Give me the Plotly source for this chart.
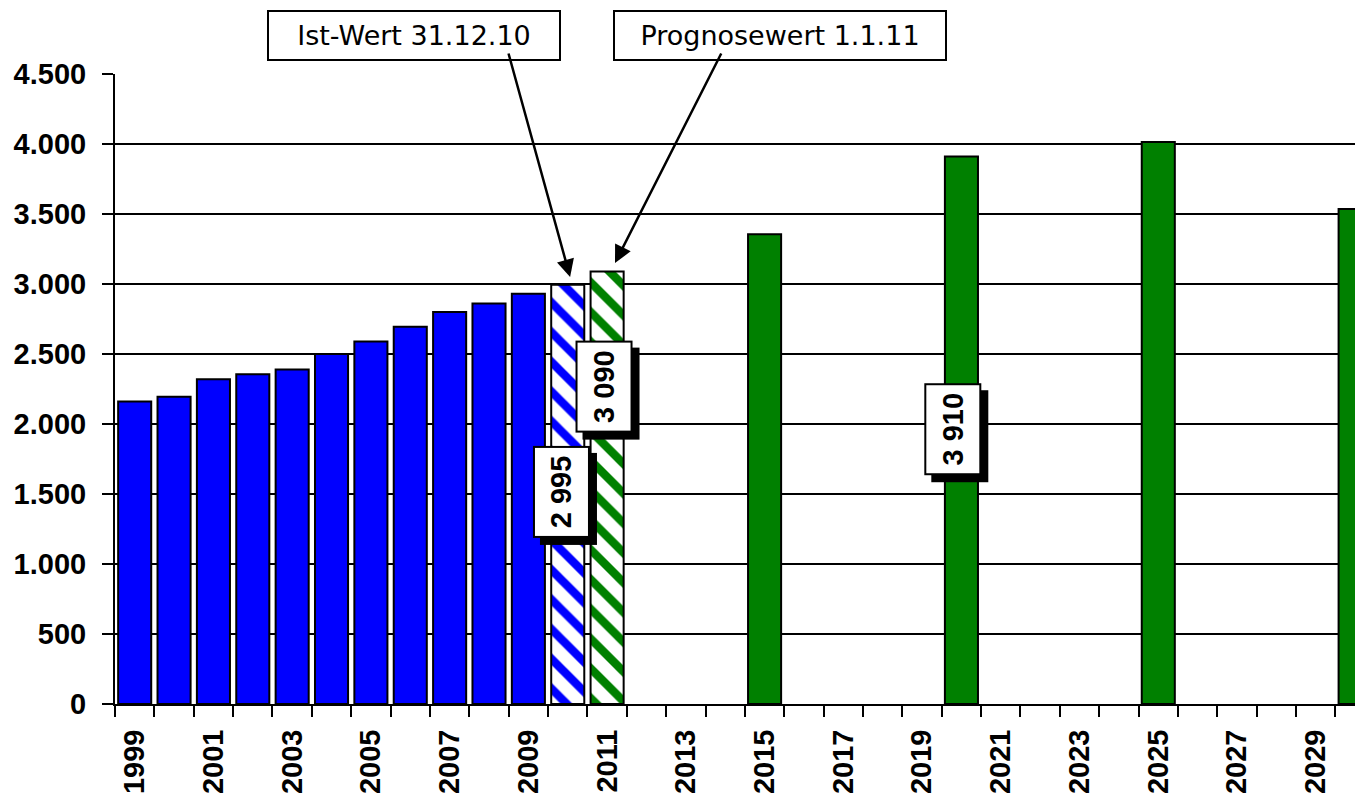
import plotly.graph_objects as go

# Werte
years_actual = [1999, 2000, 2001, 2002, 2003, 2004, 2005, 2006, 2007, 2008, 2009]
values_actual = [2160, 2195, 2320, 2355, 2390, 2500, 2590, 2695, 2800, 2860, 2930]
year_ist = [2010]
value_ist = [2995]
year_prog = [2011]
value_prog = [3090]
years_forecast = [2015, 2020, 2025, 2030]
values_forecast = [3355, 3910, 4015, 3535]
tick_years = [1999, 2001, 2003, 2005, 2007, 2009, 2011, 2013, 2015,
              2017, 2019, 2021, 2023, 2025, 2027, 2029]
y_ticks = [0, 500, 1000, 1500, 2000, 2500, 3000, 3500, 4000, 4500]

BLUE = "#0000FF"
GREEN = "#008000"
BOLD = dict(family="Arial, Liberation Sans", size=29, color="black", weight="bold")
BOX = dict(family="Verdana, DejaVu Sans", size=27, color="black")
BAR_W = 0.84
OUTLINE = dict(color="black", width=2)


def hatch(col):
    return dict(shape="\\", fgcolor=col, bgcolor="white", fgopacity=1,
                size=21, solidity=0.4)


fig = go.Figure()
fig.add_trace(go.Bar(x=years_actual, y=values_actual, width=BAR_W,
                     marker=dict(color=BLUE, line=OUTLINE)))
fig.add_trace(go.Bar(x=year_ist, y=value_ist, width=BAR_W,
                     marker=dict(color="white", line=OUTLINE, pattern=hatch(BLUE))))
fig.add_trace(go.Bar(x=year_prog, y=value_prog, width=BAR_W,
                     marker=dict(color="white", line=OUTLINE, pattern=hatch(GREEN))))
fig.add_trace(go.Bar(x=years_forecast, y=values_forecast, width=BAR_W,
                     marker=dict(color=GREEN, line=OUTLINE)))


def fmt(v):
    return f"{v:,}".replace(",", " ")


# rotated value boxes with drop shadow: (x, y of box centre, value)
labels = [
    (2009.84, 1518, value_ist[0]),
    (2010.91, 2264, value_prog[0]),
    (2019.78, 1961, values_forecast[1]),
]
for lx, ly, v in labels:
    for shadow in (True, False):
        fig.add_annotation(
            x=lx, y=ly, text=fmt(v), showarrow=False, textangle=-90,
            xanchor="center", yanchor="middle",
            font=BOLD, bgcolor="black" if shadow else "white",
            bordercolor="black", borderwidth=2, borderpad=0,
            width=88, height=53,
            xshift=7 if shadow else 0, yshift=-7 if shadow else 0,
        )

# callout boxes at the top
for px, txt, w in [(0.2392, "Ist-Wert 31.12.10", 290), (0.5329, "Prognosewert 1.1.11", 330)]:
    fig.add_annotation(
        x=px, y=1.0619, xref="paper", yref="paper", text=txt, showarrow=False,
        xanchor="center", yanchor="middle",
        font=BOX, bgcolor="white", bordercolor="black", borderwidth=2, borderpad=0,
        width=w, height=47,
    )

# arrows
for hx, hy, ax, ay in [(2010.06, 3050, -62, -225), (2011.20, 3150, 107, -211)]:
    fig.add_annotation(
        x=hx, y=hy, text="", showarrow=True, ax=ax, ay=ay,
        arrowhead=2, arrowsize=1.4, arrowwidth=2.5, arrowcolor="black", standoff=0,
    )

# page body has an 8px margin, so the figure is sized to end at the window edge
fig.update_layout(
    width=1355, height=791,
    barmode="overlay",
    showlegend=False,
    paper_bgcolor="white", plot_bgcolor="white",
    separators=",.",
    margin=dict(l=107, r=0, t=66, b=95),
    xaxis=dict(
        range=[1998.5, 2030.2], automargin=False,
        tickvals=tick_years, ticktext=[str(y) for y in tick_years],
        tickangle=-90, tickfont=BOLD,
        ticks="outside", ticklen=11, tickcolor="rgba(0,0,0,0)",
        ticklabelstandoff=1,
        minor=dict(tickmode="linear", tick0=1998.5, dtick=1, ticks="outside",
                   ticklen=11, tickwidth=2, tickcolor="black", showgrid=False),
        showgrid=False, zeroline=False,
        showline=True, linecolor="black", linewidth=2,
    ),
    yaxis=dict(
        range=[0, 4500], tickvals=y_ticks, tickformat=",d", automargin=False,
        tickfont=BOLD, ticks="outside", ticklen=11, tickwidth=2, tickcolor="black",
        ticklabelstandoff=10,
        showgrid=True, gridcolor="black", gridwidth=2,
        zeroline=False, showline=True, linecolor="black", linewidth=2,
    ),
)

fig.write_html("out.html")
